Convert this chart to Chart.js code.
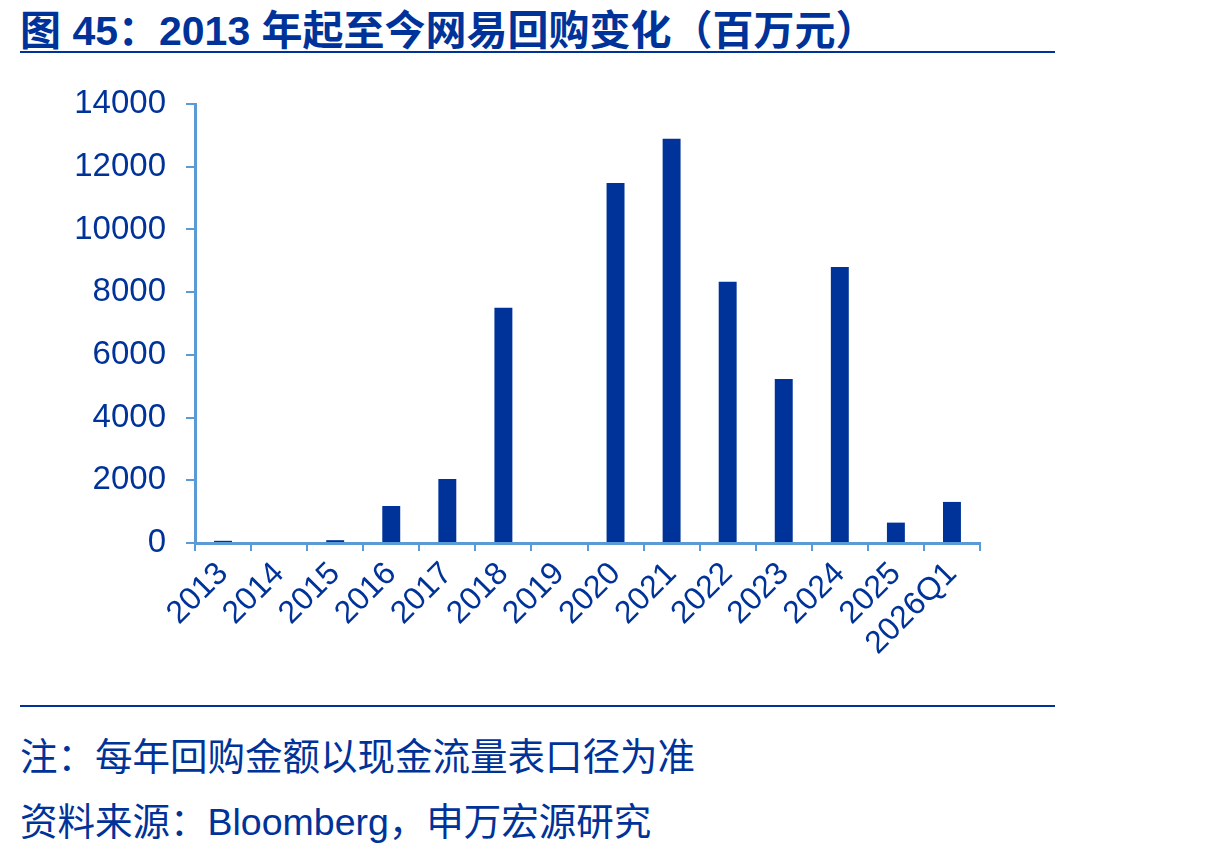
<!DOCTYPE html>
<html>
<head>
<meta charset="utf-8">
<script src="https://cdn.jsdelivr.net/npm/chart.js@4/dist/chart.umd.min.js"></script>
<style>
  body { margin: 0; background: #fff; width: 1224px; height: 848px; position: relative; overflow: hidden;
         font-family: "Liberation Sans", "Noto Sans CJK SC", sans-serif; color: #003399; }
  .title { position: absolute; left: 20px; top: -3px; font-size: 41px; font-weight: bold; white-space: nowrap; }
  .rule { position: absolute; left: 20px; width: 1035px; height: 2px; background: #003399; }
  .note { position: absolute; left: 20px; font-size: 37.5px; white-space: nowrap; }
  .wrap { position: absolute; left: 0; top: 60px; width: 1224px; height: 640px; }
</style>
</head>
<body>
<div class="title">图 45：2013 年起至今网易回购变化（百万元）</div>
<div class="rule" style="top:51px"></div>
<div class="wrap"><canvas id="myChart"></canvas></div>
<div class="rule" style="top:705px"></div>
<div class="note" style="top:726px">注：每年回购金额以现金流量表口径为准</div>
<div class="note" style="top:791px">资料来源：Bloomberg，申万宏源研究</div>
<script>
const years = ["2013", "2014", "2015", "2016", "2017", "2018", "2019", "2020", "2021", "2022", "2023", "2024", "2025", "2026Q1"];
const buyback = [70, 0, 90, 1180, 2040, 7500, 0, 11480, 12890, 8330, 5230, 8800, 650, 1310];
const yTicks = [0, 2000, 4000, 6000, 8000, 10000, 12000, 14000];

const dark = "#003399";
const axisBlue = "#5b9bd5";

new Chart("myChart", {
  type: "bar",
  data: {
    labels: years,
    datasets: [{
      label: "回购",
      data: buyback,
      backgroundColor: dark,
      barPercentage: 0.32,
      categoryPercentage: 1
    }]
  },
  options: {
    responsive: true,
    maintainAspectRatio: false,
    animation: false,
    layout: { padding: { left: 0, right: 244, top: 44, bottom: 0 } },
    plugins: { legend: { display: false }, tooltip: { enabled: false } },
    scales: {
      x: {
        grid: { display: true, drawOnChartArea: false, tickLength: 8, color: axisBlue, lineWidth: 2 },
        border: { color: axisBlue, width: 3 },
        ticks: { color: dark, font: { size: 32, family: "Liberation Sans" }, maxRotation: 45, minRotation: 45, padding: 4, autoSkip: false },
        afterFit: function(s) { s.height = 157; }
      },
      y: {
        min: 0,
        max: 14000,
        afterBuildTicks: function(s) { s.ticks = yTicks.map(v => ({ value: v })); },
        grid: { display: true, drawOnChartArea: false, tickLength: 9, color: axisBlue, lineWidth: 2 },
        border: { color: axisBlue, width: 3 },
        ticks: { color: dark, font: { size: 33, family: "Liberation Sans" }, padding: 20, callback: v => String(v) },
        afterFit: function(s) { s.width = 195; }
      }
    }
  }
});
</script>
</body>
</html>
